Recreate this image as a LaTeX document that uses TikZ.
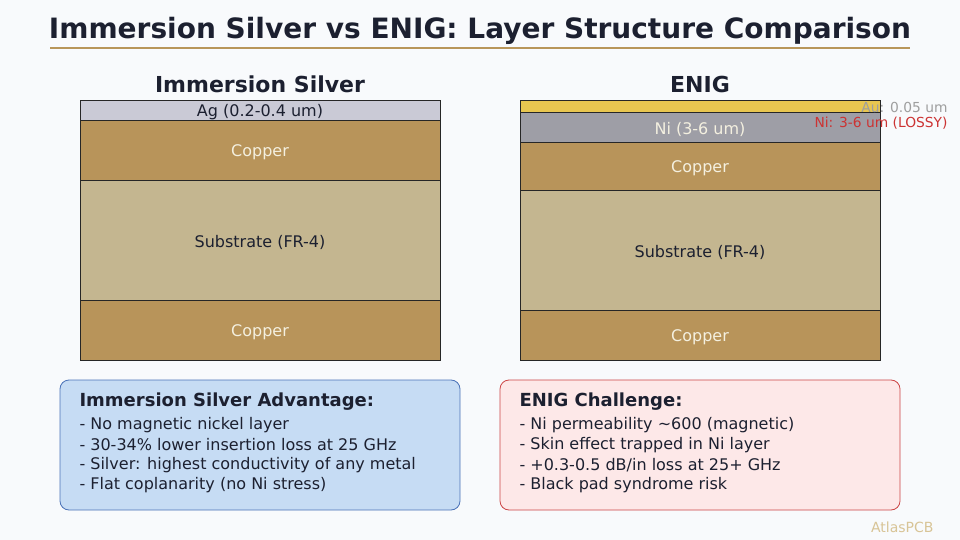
\documentclass[tikz,border=0pt]{standalone}
\usepackage{fontspec}
\setmainfont{DejaVu Sans}
\begin{document}
\begin{tikzpicture}[x=1pt,y=-1pt,
  layer/.style={draw=black!85,line width=0.8pt},
  ltxt/.style={font=\fontsize{16}{19}\selectfont},
  btxt/.style={font=\fontsize{16}{20}\selectfont,anchor=west,text=textdark},
  bhead/.style={font=\bfseries\fontsize{18}{21}\selectfont,anchor=west,text=textdark},
  infobox/.style={rounded corners=9pt,line width=0.8pt}]
\definecolor{bg}{HTML}{F8FAFC}
\definecolor{textdark}{HTML}{1C2030}
\definecolor{tan}{HTML}{B8965A}
\definecolor{ag}{HTML}{CACAD6}
\definecolor{cu}{HTML}{B8945A}
\definecolor{sub}{HTML}{C4B690}
\definecolor{au}{HTML}{E8C650}
\definecolor{ni}{HTML}{9E9EA6}
\definecolor{cutext}{HTML}{F4F0E0}
\definecolor{bluefill}{HTML}{C6DCF4}
\definecolor{bluedraw}{HTML}{4A72B8}
\definecolor{redfill}{HTML}{FDE8E8}
\definecolor{reddraw}{HTML}{CC4444}
\definecolor{lossy}{HTML}{CC3333}
\definecolor{wm}{HTML}{D8C496}
\fill[bg] (0,0) rectangle (960,540);
\useasboundingbox (0,0) rectangle (960,540);
% title
\node[font=\bfseries\fontsize{28}{32}\selectfont,text=textdark] (title) at (480,31) {Immersion Silver vs ENIG: Layer Structure Comparison};
\draw[tan,line width=2pt] (50,48) -- (910,48);
% subtitles
\node[font=\bfseries\fontsize{22}{25}\selectfont,text=textdark] (lt) at (260,84) {Immersion Silver};
\node[font=\bfseries\fontsize{22}{25}\selectfont,text=textdark] (rt) at (700,84) {ENIG};
% left stack
\draw[layer,fill=ag] (80,100) rectangle (440,120);
\draw[layer,fill=cu] (80,120) rectangle (440,180);
\draw[layer,fill=sub] (80,180) rectangle (440,300);
\draw[layer,fill=cu] (80,300) rectangle (440,360);
\node[ltxt,text=textdark] (lag) at (260,112) {Ag (0.2-0.4 um)};
\node[ltxt,text=cutext] (lcu1) at (260,152) {Copper};
\node[ltxt,text=textdark] (lsub) at (260,242) {Substrate (FR-4)};
\node[ltxt,text=cutext] (lcu2) at (260,332) {Copper};
% right stack
\draw[layer,fill=au] (520,100) rectangle (880,112);
\draw[layer,fill=ni] (520,112) rectangle (880,142);
\draw[layer,fill=cu] (520,142) rectangle (880,190);
\draw[layer,fill=sub] (520,190) rectangle (880,310);
\draw[layer,fill=cu] (520,310) rectangle (880,360);
\node[ltxt,text=cutext] (rni) at (700,129) {Ni (3-6 um)};
\node[ltxt,text=cutext] (rcu1) at (700,168) {Copper};
\node[ltxt,text=textdark] (rsub) at (700,252) {Substrate (FR-4)};
\node[ltxt,text=cutext] (rcu2) at (700,337) {Copper};
\node[font=\fontsize{13.8}{16}\selectfont,text=black!38,anchor=east] (aunote) at (951,107) {Au: 0.05 um};
\node[font=\fontsize{13.8}{16}\selectfont,text=lossy,anchor=east] (ninote) at (951,123) {Ni: 3-6 um (LOSSY)};
% boxes
\draw[infobox,fill=bluefill,draw=bluedraw] (60,380) rectangle (460,510);
\node[bhead] (lh) at (76,402) {Immersion Silver Advantage:};
\node[btxt] (l1) at (76,425) {- No magnetic nickel layer};
\node[btxt] (l2) at (76,445) {- 30-34\% lower insertion loss at 25 GHz};
\node[btxt] (l3) at (76,465) {- Silver: highest conductivity of any metal};
\node[btxt] (l4) at (76,485) {- Flat coplanarity (no Ni stress)};
\draw[infobox,fill=redfill,draw=reddraw] (500,380) rectangle (900,510);
\node[bhead] (rh) at (516,402) {ENIG Challenge:};
\node[btxt] (r1) at (516,425) {- Ni permeability \textasciitilde600 (magnetic)};
\node[btxt] (r2) at (516,445) {- Skin effect trapped in Ni layer};
\node[btxt] (r3) at (516,465) {- +0.3-0.5 dB/in loss at 25+ GHz};
\node[btxt] (r4) at (516,485) {- Black pad syndrome risk};
\node[font=\fontsize{14}{16}\selectfont,text=wm,anchor=east] (wmk) at (937,527) {AtlasPCB};
\end{tikzpicture}
\end{document}
